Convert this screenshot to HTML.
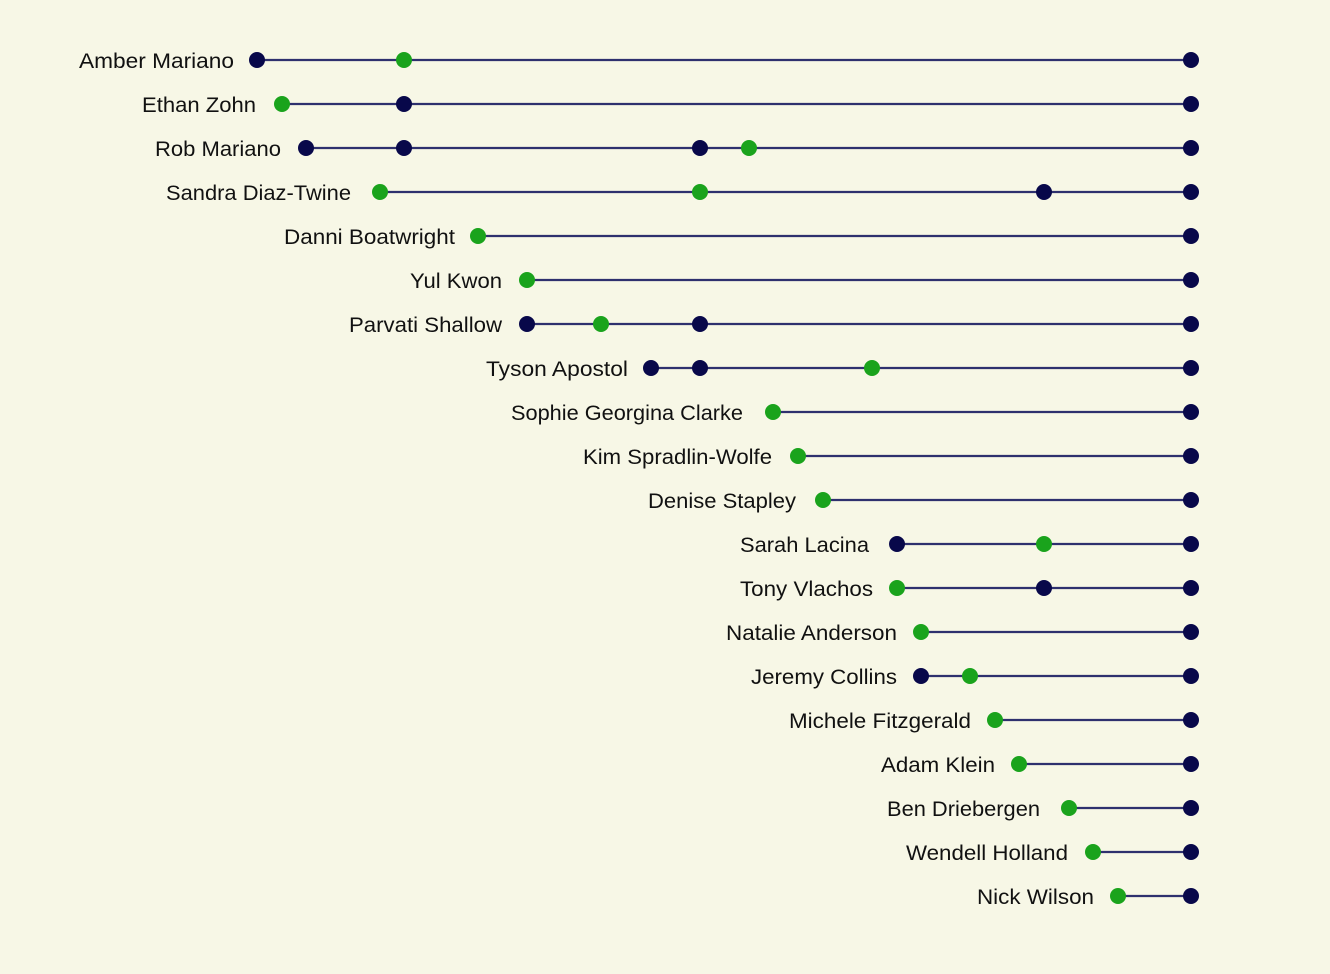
<!DOCTYPE html>
<html>
<head>
<meta charset="utf-8">
<style>
  html,body{margin:0;padding:0;background:#f7f7e6;}
  svg{display:block;}
  text{font-family:"Liberation Sans",Arial,sans-serif;font-size:21px;fill:#111111;}
</style>
</head>
<body>
<svg width="1330" height="974" viewBox="0 0 1330 974" xmlns="http://www.w3.org/2000/svg">
  <rect width="1330" height="974" fill="#f7f7e6"/>
  <g stroke="#2e306e" stroke-width="2.2">
    <line x1="257" y1="60" x2="1191" y2="60"/>
    <line x1="282" y1="104" x2="1191" y2="104"/>
    <line x1="306" y1="148" x2="1191" y2="148"/>
    <line x1="380" y1="192" x2="1191" y2="192"/>
    <line x1="478" y1="236" x2="1191" y2="236"/>
    <line x1="527" y1="280" x2="1191" y2="280"/>
    <line x1="527" y1="324" x2="1191" y2="324"/>
    <line x1="651" y1="368" x2="1191" y2="368"/>
    <line x1="773" y1="412" x2="1191" y2="412"/>
    <line x1="798" y1="456" x2="1191" y2="456"/>
    <line x1="823" y1="500" x2="1191" y2="500"/>
    <line x1="897" y1="544" x2="1191" y2="544"/>
    <line x1="897" y1="588" x2="1191" y2="588"/>
    <line x1="921" y1="632" x2="1191" y2="632"/>
    <line x1="921" y1="676" x2="1191" y2="676"/>
    <line x1="995" y1="720" x2="1191" y2="720"/>
    <line x1="1019" y1="764" x2="1191" y2="764"/>
    <line x1="1069" y1="808" x2="1191" y2="808"/>
    <line x1="1093" y1="852" x2="1191" y2="852"/>
    <line x1="1118" y1="896" x2="1191" y2="896"/>
  </g>
  <!-- dark dots -->
  <g fill="#08084a">
    <circle cx="257" cy="60" r="8"/><circle cx="1191" cy="60" r="8"/>
    <circle cx="404" cy="104" r="8"/><circle cx="1191" cy="104" r="8"/>
    <circle cx="306" cy="148" r="8"/><circle cx="404" cy="148" r="8"/><circle cx="700" cy="148" r="8"/><circle cx="1191" cy="148" r="8"/>
    <circle cx="1044" cy="192" r="8"/><circle cx="1191" cy="192" r="8"/>
    <circle cx="1191" cy="236" r="8"/>
    <circle cx="1191" cy="280" r="8"/>
    <circle cx="527" cy="324" r="8"/><circle cx="700" cy="324" r="8"/><circle cx="1191" cy="324" r="8"/>
    <circle cx="651" cy="368" r="8"/><circle cx="700" cy="368" r="8"/><circle cx="1191" cy="368" r="8"/>
    <circle cx="1191" cy="412" r="8"/>
    <circle cx="1191" cy="456" r="8"/>
    <circle cx="1191" cy="500" r="8"/>
    <circle cx="897" cy="544" r="8"/><circle cx="1191" cy="544" r="8"/>
    <circle cx="1044" cy="588" r="8"/><circle cx="1191" cy="588" r="8"/>
    <circle cx="1191" cy="632" r="8"/>
    <circle cx="921" cy="676" r="8"/><circle cx="1191" cy="676" r="8"/>
    <circle cx="1191" cy="720" r="8"/>
    <circle cx="1191" cy="764" r="8"/>
    <circle cx="1191" cy="808" r="8"/>
    <circle cx="1191" cy="852" r="8"/>
    <circle cx="1191" cy="896" r="8"/>
  </g>
  <!-- green dots -->
  <g fill="#1aa31c">
    <circle cx="404" cy="60" r="8"/>
    <circle cx="282" cy="104" r="8"/>
    <circle cx="749" cy="148" r="8"/>
    <circle cx="380" cy="192" r="8"/><circle cx="700" cy="192" r="8"/>
    <circle cx="478" cy="236" r="8"/>
    <circle cx="527" cy="280" r="8"/>
    <circle cx="601" cy="324" r="8"/>
    <circle cx="872" cy="368" r="8"/>
    <circle cx="773" cy="412" r="8"/>
    <circle cx="798" cy="456" r="8"/>
    <circle cx="823" cy="500" r="8"/>
    <circle cx="1044" cy="544" r="8"/>
    <circle cx="897" cy="588" r="8"/>
    <circle cx="921" cy="632" r="8"/>
    <circle cx="970" cy="676" r="8"/>
    <circle cx="995" cy="720" r="8"/>
    <circle cx="1019" cy="764" r="8"/>
    <circle cx="1069" cy="808" r="8"/>
    <circle cx="1093" cy="852" r="8"/>
    <circle cx="1118" cy="896" r="8"/>
  </g>
  <!-- labels -->
  <g>
    <text x="79" y="68" textLength="155" lengthAdjust="spacingAndGlyphs">Amber Mariano</text>
    <text x="142" y="112" textLength="114" lengthAdjust="spacingAndGlyphs">Ethan Zohn</text>
    <text x="155" y="156" textLength="126" lengthAdjust="spacingAndGlyphs">Rob Mariano</text>
    <text x="166" y="200" textLength="185" lengthAdjust="spacingAndGlyphs">Sandra Diaz-Twine</text>
    <text x="284" y="244" textLength="171" lengthAdjust="spacingAndGlyphs">Danni Boatwright</text>
    <text x="410" y="288" textLength="92" lengthAdjust="spacingAndGlyphs">Yul Kwon</text>
    <text x="349" y="332" textLength="153" lengthAdjust="spacingAndGlyphs">Parvati Shallow</text>
    <text x="486" y="376" textLength="142" lengthAdjust="spacingAndGlyphs">Tyson Apostol</text>
    <text x="511" y="420" textLength="232" lengthAdjust="spacingAndGlyphs">Sophie Georgina Clarke</text>
    <text x="583" y="464" textLength="189" lengthAdjust="spacingAndGlyphs">Kim Spradlin-Wolfe</text>
    <text x="648" y="508" textLength="148" lengthAdjust="spacingAndGlyphs">Denise Stapley</text>
    <text x="740" y="552" textLength="129" lengthAdjust="spacingAndGlyphs">Sarah Lacina</text>
    <text x="740" y="596" textLength="133" lengthAdjust="spacingAndGlyphs">Tony Vlachos</text>
    <text x="726" y="640" textLength="171" lengthAdjust="spacingAndGlyphs">Natalie Anderson</text>
    <text x="751" y="684" textLength="146" lengthAdjust="spacingAndGlyphs">Jeremy Collins</text>
    <text x="789" y="728" textLength="182" lengthAdjust="spacingAndGlyphs">Michele Fitzgerald</text>
    <text x="881" y="772" textLength="114" lengthAdjust="spacingAndGlyphs">Adam Klein</text>
    <text x="887" y="816" textLength="153" lengthAdjust="spacingAndGlyphs">Ben Driebergen</text>
    <text x="906" y="860" textLength="162" lengthAdjust="spacingAndGlyphs">Wendell Holland</text>
    <text x="977" y="904" textLength="117" lengthAdjust="spacingAndGlyphs">Nick Wilson</text>
  </g>
</svg>
</body>
</html>
